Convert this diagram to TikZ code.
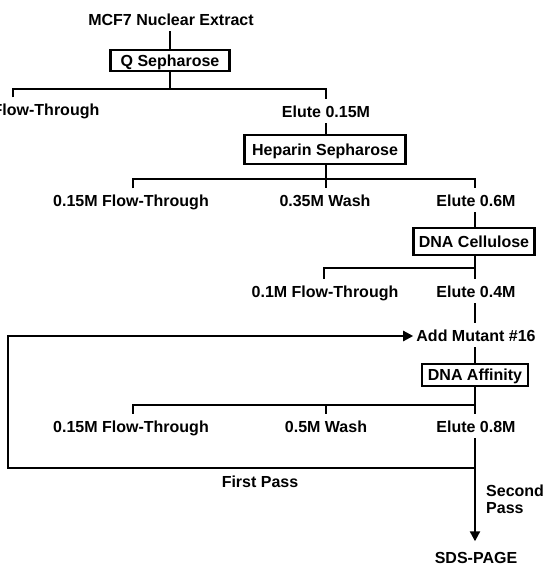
\documentclass[tikz,border=0pt]{standalone}
\usepackage{fontspec}
\setmainfont{Liberation Sans}
\usetikzlibrary{arrows.meta}
\tikzset{
  lbl/.style={inner xsep=0pt, inner ysep=6pt, anchor=base, text height=11.5pt, text depth=0pt,
    font=\bfseries\fontsize{16}{19}\selectfont},
  boxnode/.style={draw, line width=2.2pt, inner sep=0pt, text height=11.5pt, text depth=0pt,
    font=\bfseries\fontsize{16}{19}\selectfont},
  conn/.style={line width=2.2pt},
  tip/.style={-{Triangle[length=10pt,width=10pt]}}
}
\begin{document}
\begin{tikzpicture}[x=1pt,y=-1pt]
\useasboundingbox (0,0) rectangle (547,565);
\fill[white] (0,0) rectangle (547,565);
\clip (0,0) rectangle (547,565);
% nodes
\node[lbl] (mcf) at (171,25) {MCF7 Nuclear Extract};
\node[boxnode, minimum width=119pt, minimum height=21pt] (qs) at (170,60.5) {Q Sepharose};
\node[lbl] (ft0) at (46,115) {Flow-Through};
\node[lbl] (e015) at (326,117) {Elute 0.15M};
\node[boxnode, minimum width=161pt, minimum height=29pt] (hs) at (325,149.5) {Heparin Sepharose};
\node[lbl] (ft1) at (131,206) {0.15M Flow-Through};
\node[lbl] (w035) at (325,206) {0.35M Wash};
\node[lbl] (e06) at (476,206) {Elute 0.6M};
\node[boxnode, minimum width=121pt, minimum height=27pt] (dc) at (474,241.5) {DNA Cellulose};
\node[lbl] (ft2) at (325,297) {0.1M Flow-Through};
\node[lbl] (e04) at (476,297) {Elute 0.4M};
\node[lbl] (am) at (476,341) {Add Mutant \#16};
\node[boxnode, minimum width=106pt, minimum height=22pt] (da) at (475,375) {DNA Affinity};
\node[lbl] (ft3) at (131,432) {0.15M Flow-Through};
\node[lbl] (w05) at (326,432) {0.5M Wash};
\node[lbl] (e08) at (476,432) {Elute 0.8M};
\node[lbl] (fp) at (260,487) {First Pass};
\node[lbl, anchor=base west] (sp1) at (486,496) {Second};
\node[lbl, anchor=base west] (sp2) at (486,513) {Pass};
\node[lbl] (sds) at (476,563) {SDS-PAGE};
% junctions
\coordinate (j1) at (170,89);
\coordinate (t0) at (13,89);
\coordinate (t0b) at (326,89);
\coordinate (j2) at (326,179);
\coordinate (t1) at (133,179);
\coordinate (t2) at (475,179);
\coordinate (j3) at (475,268);
\coordinate (t3) at (324,268);
\coordinate (j4) at (475,405);
\coordinate (t4) at (133,405);
\coordinate (t5) at (326,405);
\coordinate (j5) at (475,468);
\coordinate (c1) at (8,468);
\coordinate (c2) at (8,336);
% connectors
\draw[conn] (mcf.south -| j1) -- (qs.north -| j1);
\draw[conn] (qs.south -| j1) -- (j1);
\draw[conn] (t0 |- ft0.north) -- (t0) -- (t0b) -- (t0b |- e015.north);
\draw[conn] (e015.south -| j2) -- (hs.north -| j2);
\draw[conn] (hs.south -| j2) -- (j2);
\draw[conn] (t1 |- ft1.north) -- (t1) -- (t2) -- (t2 |- e06.north);
\draw[conn] (j2) -- (j2 |- w035.north);
\draw[conn] (e06.south -| j3) -- (dc.north -| j3);
\draw[conn] (dc.south -| j3) -- (j3) -- (t3) -- (t3 |- ft2.north);
\draw[conn] (j3) -- (j3 |- e04.north);
\draw[conn] (e04.south -| j3) -- (am.north -| j3);
\draw[conn] (am.south -| j3) -- (da.north -| j3);
\draw[conn] (da.south -| j4) -- (j4) -- (t4) -- (t4 |- ft3.north);
\draw[conn] (t5) -- (t5 |- w05.north);
\draw[conn] (j4) -- (j4 |- e08.north);
\draw[conn, tip, shorten >=4pt] (e08.south -| j4) -- (sds.north -| j4);
\draw[conn, tip, shorten >=3pt] (j5) -- (c1) -- (c2) -- (am.west |- c2);
\end{tikzpicture}
\end{document}
